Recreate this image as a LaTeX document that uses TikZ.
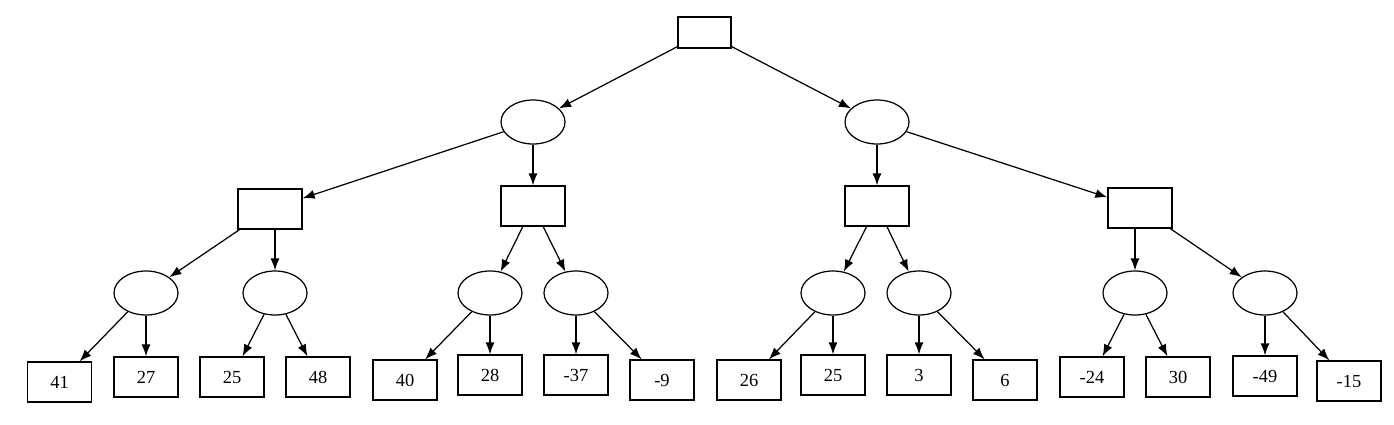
\documentclass[tikz,border=0pt]{standalone}
\usepackage{fontspec}
\setmainfont{Liberation Serif}
\usetikzlibrary{shapes,arrows.meta,positioning}

\begin{document}
\begin{tikzpicture}[x=0.02cm, y=-0.02cm, line width=0.7pt,
    box/.style={draw, rectangle, minimum width=1.28cm, minimum height=0.8cm, inner sep=0pt, font=\fontsize{10.5}{12}\selectfont},
    oval/.style={draw, ellipse, minimum width=1.28cm, minimum height=0.88cm, inner sep=0pt},
    link/.style={-{Latex[length=2.4mm,width=1.8mm]}}]
    \useasboundingbox (0,0) rectangle (1394,424);

    % Top node
    \node[box, minimum width=1.06cm, minimum height=0.62cm] (T) at (704.5,32.5) {};

    % Left half
    \node[oval] (A) at (533,122) {};
    \draw[link] (T) -- (A);
    \node[box] (A1) at (270,209) {};
    \node[box] (A2) at (533,206) {};
    \draw[link] (A) -- (A1);
    \draw[link] (A) -- (A2);

    \node[oval] (A1a) at (146,293) {};
    \node[oval] (A1b) at (275,293) {};
    \node[oval] (A2a) at (490,293) {};
    \node[oval] (A2b) at (576,293) {};
    \draw[link] (A1) -- (A1a);
    \draw[link] (A1b |- A1.south) -- (A1b);
    \draw[link] (A2) -- (A2a);
    \draw[link] (A2) -- (A2b);

    \node[box] (n1) at (59.5,382) {41};
    \node[box] (n2) at (146,377) {27};
    \node[box] (n3) at (232,377) {25};
    \node[box] (n4) at (318,377) {48};
    \node[box] (n5) at (405,380) {40};
    \node[box] (n6) at (490,375) {28};
    \node[box] (n7) at (576,375) {-37};
    \node[box] (n8) at (662,380) {-9};
    \draw[link] (A1a) -- (n1);
    \draw[link] (A1a) -- (n2);
    \draw[link] (A1b) -- (n3);
    \draw[link] (A1b) -- (n4);
    \draw[link] (A2a) -- (n5);
    \draw[link] (A2a) -- (n6);
    \draw[link] (A2b) -- (n7);
    \draw[link] (A2b) -- (n8);

    % Right half
    \node[oval] (B) at (877,122) {};
    \draw[link] (T) -- (B);
    \node[box] (B1) at (877,206) {};
    \node[box] (B2) at (1140,208) {};
    \draw[link] (B) -- (B1);
    \draw[link] (B) -- (B2);

    \node[oval] (B1a) at (833,293) {};
    \node[oval] (B1b) at (919,293) {};
    \node[oval] (B2a) at (1135,293) {};
    \node[oval] (B2b) at (1265,293) {};
    \draw[link] (B1) -- (B1a);
    \draw[link] (B1) -- (B1b);
    \draw[link] (B2a |- B2.south) -- (B2a);
    \draw[link] (B2) -- (B2b);

    \node[box] (n9) at (749,380) {26};
    \node[box] (n10) at (833,375) {25};
    \node[box] (n11) at (919,375) {3};
    \node[box] (n12) at (1005,380) {6};
    \node[box] (n13) at (1092,377) {-24};
    \node[box] (n14) at (1178,377) {30};
    \node[box] (n15) at (1265,376) {-49};
    \node[box] (n16) at (1349,381) {-15};
    \draw[link] (B1a) -- (n9);
    \draw[link] (B1a) -- (n10);
    \draw[link] (B1b) -- (n11);
    \draw[link] (B1b) -- (n12);
    \draw[link] (B2a) -- (n13);
    \draw[link] (B2a) -- (n14);
    \draw[link] (B2b) -- (n15);
    \draw[link] (B2b) -- (n16);
\end{tikzpicture}
\end{document}
